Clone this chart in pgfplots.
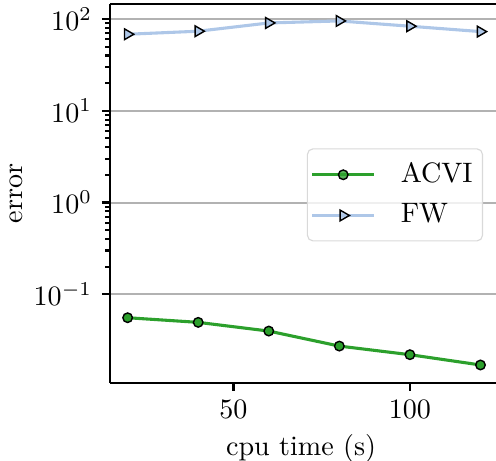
\documentclass[border=0pt]{standalone}
\usepackage{pgfplots}
\pgfplotsset{compat=1.18}
\definecolor{acvi}{HTML}{2CA02C}
\definecolor{fw}{HTML}{AEC7E8}
\begin{document}
\begin{tikzpicture}
\useasboundingbox (-39.17pt,-27.53pt) rectangle (137.46pt,136.29pt);
\begin{axis}[
  scale only axis, width=137.46pt, height=134.87pt,
  xmin=15, xmax=124.4,
  ymode=log, ymin=0.01089, ymax=145.5,
  axis x line*=box, axis y line*=left,
  axis line style={line width=0.85pt, black},
  xtick={50,100}, ytick={0.1,1,10,100},
  xtick pos=left, ytick pos=left,
  tick align=outside,
  major tick length=2.9pt, minor tick length=1.7pt,
  every tick/.style={black, line width=0.75pt},
  ymajorgrids,
  major grid style={color=black!30, line width=0.72pt},
  xlabel={cpu time (s)}, ylabel={error},
  xlabel style={at={(axis description cs:0.495,0)}, anchor=base, yshift=-25.75pt},
  ylabel style={at={(axis description cs:-0.2415,0.5)}, anchor=center},
  legend image code/.code={\draw[mark repeat=2, mark phase=2] plot coordinates {(0cm,0cm) (0.385cm,0cm) (0.77cm,0cm)};},
  legend style={at={(rel axis cs:0.51,0.619)}, anchor=north west, draw=black!15, rounded corners=2pt,
    fill=white, fill opacity=0.8, text opacity=1, draw opacity=1, inner xsep=1.25pt, inner ysep=2.4pt,
    row sep=1.0pt, column sep=6.7pt, nodes={inner xsep=2.3pt, inner ysep=2.5pt}},
  legend cell align=left,
]
\addplot[color=acvi, line width=1.1pt, mark=*, mark size=1.7pt, mark options={draw=black, fill=acvi, line width=0.5pt}]
  coordinates {(20,0.0556) (40,0.0495) (60,0.0398) (80,0.0273) (100,0.0220) (120,0.0170)};
\addlegendentry{ACVI}
\addplot[color=fw, line width=1.1pt, mark=triangle*, mark size=2.2pt, mark options={draw=black, fill=fw, line width=0.5pt, rotate=-90}]
  coordinates {(20,68.1) (40,73.5) (60,90.4) (80,95.1) (100,83.3) (120,72.8)};
\addlegendentry{FW}
\end{axis}
\end{tikzpicture}
\end{document}
